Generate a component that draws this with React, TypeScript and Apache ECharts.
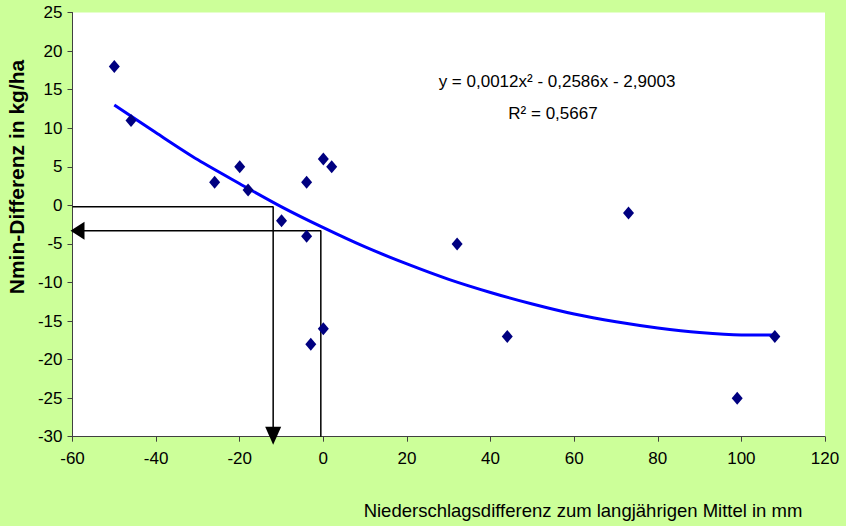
import React, { useEffect, useRef } from "react";
import * as echarts from "echarts";

// Measured points (Niederschlagsdifferenz mm, Nmin-Differenz kg/ha)
const pointX = [-50, -46, -26, -20, -18, -10, -4, -4, 0, 2, -3, 0, 32, 44, 73, 99, 108];
const pointY = [18, 11, 3, 5, 2, -2, 3, -4, 6, 5, -18, -16, -5, -17, -1, -25, -17];

// Polynomial trendline
const trendX = [-50, -40, -30, -20, -10, 0, 10, 20, 30, 40, 50, 60, 70, 80, 90, 100, 108];
const trendY = [13.0, 9.4, 5.9, 2.8, -0.2, -2.9, -5.4, -7.6, -9.6, -11.3, -12.8, -14.1, -15.1, -15.9, -16.5, -16.8, -16.8];

// Reading-help arrows
const arrowDownPath = [[-60, -0.2], [-12, -0.2], [-12, -30]];
const arrowLeftPath = [[-0.6, -30], [-0.6, -3.3], [-60, -3.3]];

const equationText = "y = 0,0012x² - 0,2586x - 2,9003";
const r2Text = "R² = 0,5667";
const xTitle = "Niederschlagsdifferenz zum langjährigen Mittel in mm";
const yTitle = "Nmin-Differenz in kg/ha";

const FONT = "'Liberation Sans', Arial, sans-serif";

export default function App() {
  const ref = useRef<HTMLDivElement>(null);
  useEffect(() => {
    if (!ref.current) return;
    const chart = echarts.init(ref.current, null, { renderer: "svg" });
    const points = pointX.map((x, i) => [x, pointY[i]]);
    const trend = trendX.map((x, i) => [x, trendY[i]]);
    chart.setOption({
      animation: false,
      backgroundColor: "#CCFF99",
      textStyle: { fontFamily: FONT },
      grid: {
        left: 72.5,
        right: 21,
        top: 12.5,
        bottom: 89.3,
        show: true,
        backgroundColor: "#ffffff",
        borderWidth: 0,
      },
      xAxis: {
        type: "value",
        min: -60,
        max: 120,
        interval: 20,
        splitLine: { show: false },
        axisLine: { show: true, onZero: false, lineStyle: { color: "#404040", width: 1 } },
        axisTick: { show: true, length: 5, lineStyle: { color: "#404040" } },
        axisLabel: { color: "#000", fontSize: 17, fontFamily: FONT, margin: 13 },
      },
      yAxis: {
        type: "value",
        min: -30,
        max: 25,
        interval: 5,
        splitLine: { show: false },
        axisLine: { show: true, onZero: false, lineStyle: { color: "#404040", width: 1 } },
        axisTick: { show: true, length: 5, lineStyle: { color: "#404040" } },
        axisLabel: { color: "#000", fontSize: 17, fontFamily: FONT, margin: 10 },
      },
      series: [
        {
          type: "line",
          data: trend,
          smooth: 0.3,
          showSymbol: false,
          symbol: "none",
          lineStyle: { color: "#0000FF", width: 3 },
          z: 3,
        },
        {
          type: "line",
          data: arrowDownPath,
          symbol: "none",
          clip: false,
          lineStyle: { color: "#000", width: 1.5 },
          z: 2,
        },
        {
          type: "line",
          data: arrowLeftPath,
          symbol: "none",
          clip: false,
          lineStyle: { color: "#000", width: 1.5 },
          z: 2,
        },
        {
          type: "scatter",
          data: [arrowDownPath[arrowDownPath.length - 1]],
          symbol: "triangle",
          symbolSize: [16, 18],
          symbolRotate: 180,
          symbolOffset: [0, -1],
          clip: false,
          itemStyle: { color: "#000", opacity: 1 },
          z: 4,
        },
        {
          type: "scatter",
          data: [arrowLeftPath[arrowLeftPath.length - 1]],
          symbol: "triangle",
          symbolSize: [18, 14],
          symbolRotate: 90,
          symbolOffset: [5, 0],
          clip: false,
          itemStyle: { color: "#000", opacity: 1 },
          z: 4,
        },
        {
          type: "scatter",
          data: points,
          symbol: "diamond",
          symbolSize: [11, 13],
          itemStyle: { color: "#000080", opacity: 1 },
          z: 5,
        },
      ],
      graphic: [
        {
          type: "text",
          x: 557,
          y: 81,
          style: {
            text: equationText,
            font: `17px ${FONT}`,
            fill: "#000",
            textAlign: "center",
            textVerticalAlign: "middle",
          },
        },
        {
          type: "text",
          x: 553,
          y: 113,
          style: {
            text: r2Text,
            font: `17px ${FONT}`,
            fill: "#000",
            textAlign: "center",
            textVerticalAlign: "middle",
          },
        },
        {
          type: "text",
          x: 583,
          y: 510,
          style: {
            text: xTitle,
            font: `18.5px ${FONT}`,
            fill: "#000",
            textAlign: "center",
            textVerticalAlign: "middle",
          },
        },
        {
          type: "text",
          x: 16,
          y: 177,
          rotation: Math.PI / 2,
          style: {
            text: yTitle,
            font: `bold 21px ${FONT}`,
            fill: "#000",
            textAlign: "center",
            textVerticalAlign: "middle",
          },
        },
      ],
    });
    return () => chart.dispose();
  }, []);
  return <div ref={ref} style={{ width: 846, height: 526, position: "absolute", left: 0, top: 0 }} />;
}
